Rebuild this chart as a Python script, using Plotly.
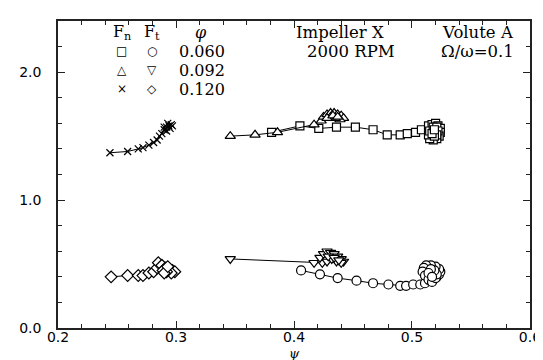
import plotly.graph_objects as go

# ---- data ----
psi_fn_060 = [0.381, 0.405, 0.421, 0.436, 0.452, 0.467, 0.479, 0.490, 0.496, 0.503, 0.508, 0.514,
              0.517, 0.520, 0.522, 0.524, 0.524, 0.523, 0.521, 0.518, 0.515, 0.514, 0.515, 0.518,
              0.521, 0.522, 0.521, 0.519, 0.517, 0.519]
fn_060 = [1.53, 1.58, 1.56, 1.57, 1.57, 1.55, 1.51, 1.51, 1.52, 1.53, 1.55, 1.58,
          1.59, 1.60, 1.58, 1.56, 1.53, 1.50, 1.48, 1.47, 1.48, 1.51, 1.54, 1.57,
          1.57, 1.54, 1.51, 1.50, 1.52, 1.55]

psi_fn_092 = [0.346, 0.367, 0.386, 0.417, 0.423, 0.425, 0.428, 0.431, 0.434, 0.437, 0.440, 0.442,
              0.439, 0.435, 0.431, 0.428, 0.433, 0.437]
fn_092 = [1.50, 1.51, 1.53, 1.59, 1.62, 1.65, 1.67, 1.68, 1.68, 1.67, 1.66, 1.64,
          1.63, 1.64, 1.65, 1.64, 1.66, 1.65]

psi_fn_120 = [0.244, 0.259, 0.268, 0.272, 0.277, 0.281, 0.284, 0.286, 0.288, 0.290, 0.292, 0.294,
              0.296, 0.293, 0.290, 0.292, 0.295, 0.297]
fn_120 = [1.37, 1.38, 1.40, 1.41, 1.43, 1.45, 1.47, 1.50, 1.52, 1.55, 1.57, 1.58,
          1.59, 1.60, 1.57, 1.54, 1.56, 1.58]

psi_ft_060 = [0.406, 0.422, 0.437, 0.453, 0.467, 0.480, 0.490, 0.495, 0.501, 0.507, 0.511, 0.515,
              0.518, 0.521, 0.523, 0.524, 0.523, 0.520, 0.516, 0.512, 0.510, 0.509, 0.511, 0.514,
              0.517, 0.520, 0.521, 0.519, 0.516, 0.514, 0.517]
ft_060 = [0.45, 0.42, 0.39, 0.37, 0.35, 0.34, 0.33, 0.33, 0.34, 0.34, 0.35, 0.37,
          0.38, 0.40, 0.42, 0.44, 0.46, 0.48, 0.49, 0.49, 0.47, 0.44, 0.41, 0.38,
          0.36, 0.39, 0.42, 0.45, 0.46, 0.43, 0.40]

psi_ft_092 = [0.346, 0.417, 0.424, 0.428, 0.422, 0.425, 0.428, 0.431, 0.434, 0.437, 0.440, 0.442,
              0.440, 0.436, 0.432, 0.429, 0.434, 0.438]
ft_092 = [0.54, 0.51, 0.51, 0.52, 0.55, 0.58, 0.60, 0.59, 0.58, 0.56, 0.54, 0.52,
          0.51, 0.52, 0.54, 0.56, 0.55, 0.53]

psi_ft_120 = [0.245, 0.259, 0.268, 0.272, 0.277, 0.281, 0.284, 0.285, 0.288, 0.291, 0.294, 0.297,
              0.299, 0.296, 0.292, 0.289, 0.290, 0.293]
ft_120 = [0.40, 0.41, 0.41, 0.41, 0.43, 0.44, 0.47, 0.51, 0.49, 0.47, 0.46, 0.45,
          0.44, 0.43, 0.44, 0.45, 0.43, 0.48]

phi_labels = ["0.060", "0.092", "0.120"]
fn_symbols_txt = ["\u25a1", "\u25b3", "\u00d7"]
ft_symbols_txt = ["\u25cb", "\u25bd", "\u25c7"]

x_tickvals = [0.2, 0.3, 0.4, 0.5, 0.6]
x_ticktext = ["0.2", "0.3", "0.4", "0.5", "0.6"]
y_tickvals = [0.0, 1.0, 2.0]
y_ticktext = ["0.0", "1.0", "2.0"]

series = [
    (psi_fn_060, fn_060, "square", 8),
    (psi_fn_092, fn_092, "triangle-up", 9),
    (psi_fn_120, fn_120, "x-thin", 7),
    (psi_ft_060, ft_060, "circle", 9),
    (psi_ft_092, ft_092, "triangle-down", 9),
    (psi_ft_120, ft_120, "diamond", 9),
]

fig = go.Figure()
for xs, ys, sym, sz in series:
    fig.add_trace(go.Scatter(
        x=xs, y=ys, mode="lines+markers",
        line=dict(color="black", width=1),
        marker=dict(symbol=sym, size=sz, color="white",
                    line=dict(color="black", width=1.2)),
        showlegend=False, hoverinfo="skip"))

serif = "DejaVu Serif"

def px_to_psi(px):
    return 0.2 + (px - 50) / 1207.5

def py_to_val(py):
    return (320 - py) / 128.0

annotations = []
def add_text(px, py, text, size=16, anchor="center"):
    annotations.append(dict(
        xref="x", yref="y", x=px_to_psi(px), y=py_to_val(py),
        text=text, showarrow=False, xanchor=anchor, yanchor="middle",
        font=dict(family=serif, size=size, color="black")))

# legend block
head_y = 24
rows_y = [43, 62, 81]
add_text(115, head_y, "F<sub>n</sub>", 16)
add_text(146, head_y, "F<sub>t</sub>", 16)
add_text(196, head_y, "<i>\u03c6</i>", 16)
for i in range(3):
    add_text(115, rows_y[i], fn_symbols_txt[i], 12)
    add_text(146, rows_y[i], ft_symbols_txt[i], 12)
    add_text(197, rows_y[i], phi_labels[i], 16)

# header texts
add_text(292, head_y, "Impeller X", 16.5, "left")
add_text(519, head_y, "Volute A", 16.5, "right")
add_text(303, rows_y[0], "2000 RPM", 16.5, "left")
add_text(519, rows_y[0], "\u03a9/\u03c9=0.1", 16.5, "right")

annotations.append(dict(xref="paper", yref="paper", x=0.5, y=-(345 - 320) / 307.0,
                        text="<i>\u03c8</i>", showarrow=False,
                        xanchor="center", yanchor="middle",
                        font=dict(family=serif, size=13, color="black")))

axis_common = dict(showline=True, linecolor="#222", linewidth=1.5, mirror="allticks",
                   ticks="inside", ticklen=7, tickwidth=1, tickcolor="#222",
                   showgrid=False, zeroline=False, ticklabeloverflow="allow",
                   tickfont=dict(family="DejaVu Sans", size=14, color="black"))

fig.update_layout(
    width=543, height=360,
    margin=dict(l=50, r=10, t=13, b=40),
    paper_bgcolor="white", plot_bgcolor="white",
    xaxis=dict(range=[0.19999, 0.60001], tickmode="array", tickvals=x_tickvals,
               ticktext=x_ticktext, ticklabelstandoff=-5,
               minor=dict(dtick=0.02, tick0=0.2, ticks="inside", ticklen=4, tickcolor="#222"),
               **axis_common),
    yaxis=dict(range=[0, 2.4], tickmode="array", tickvals=y_tickvals, ticktext=y_ticktext,
               minor=dict(dtick=0.2, tick0=0, ticks="inside", ticklen=4, tickcolor="#222"),
               ticklabelstandoff=12,
               **axis_common),
    annotations=annotations,
)

fig.write_html("out.html")
